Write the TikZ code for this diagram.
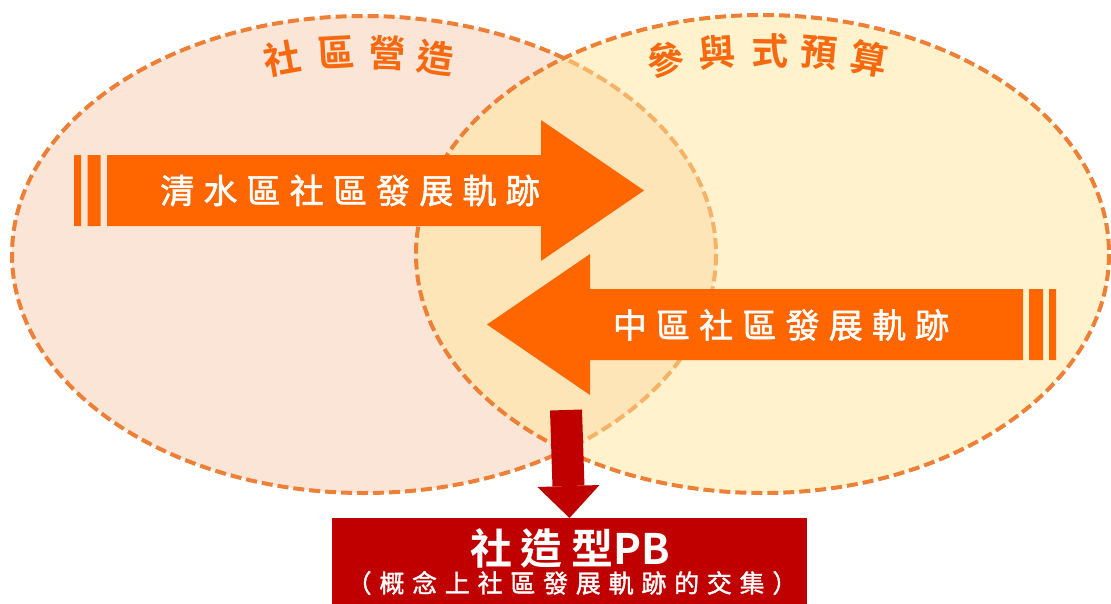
\documentclass[tikz,border=0pt]{standalone}
\usepackage{fontspec}
\usepackage{tikz}
\usetikzlibrary{arrows.meta}
\newfontfamily\cjk[BoldFont=Noto Sans CJK TC Bold]{Noto Sans CJK TC}
\newfontfamily\cjkwide[LetterSpace=27,FakeBold=1.5]{Noto Sans CJK TC}
\newfontfamily\cjknote[LetterSpace=31,FakeBold=1.5]{Noto Sans CJK TC}
\newfontfamily\cjkmid[LetterSpace=20,BoldFont=Noto Sans CJK TC Bold]{Noto Sans CJK TC}
\definecolor{setborder}{HTML}{EE7F36}
\definecolor{zaofill}{HTML}{FBE5D6}
\definecolor{pbfill}{HTML}{FFE599}
\definecolor{trackorange}{HTML}{FF6600}
\definecolor{titleorange}{HTML}{F8690F}
\definecolor{pbred}{HTML}{C00000}

\begin{document}
\begin{tikzpicture}[x=1pt,y=-1pt,
		setline/.style={draw=setborder,line width=4pt,dash pattern=on 11pt off 5pt},
		titlechar/.style={text=titleorange,inner sep=0pt,font=\cjk\bfseries\fontsize{37}{40}\selectfont},
		tracktext/.style={text=white,inner sep=0pt,font=\cjkwide\fontsize{34}{38}\selectfont}]
		\useasboundingbox (0,0) rectangle (1111,603);
		% the two sets
		\path[setline,fill=zaofill] (364,254.5) ellipse [x radius=352,y radius=238.5];
		\path[setline,fill=pbfill,fill opacity=0.5] (762.5,254) ellipse [x radius=346.5,y radius=239];
		\foreach \c/\x/\y/\r [count=\i] in {社/282/58/10,區/336/52/3,營/387/53/-2,造/436/58/-8}
			\node[titlechar,rotate=\r] (zao\i) at (\x,\y) {\c};
		\foreach \c/\x/\y/\r [count=\i] in {參/666/60/9,與/717/52/4,式/770/51/-1,預/819/53/-5,算/869/59/-10}
			\node[titlechar,rotate=\r] (pb\i) at (\x,\y) {\c};
		% tracks
		\fill[trackorange] (74,155) rectangle (81,226) (87.5,155) rectangle (100.7,226);
		\fill[trackorange] (107,155) -- (541,155) -- (541,120) -- (644,190.5) -- (541,261) -- (541,226) -- (107,226) -- cycle;
		\node[tracktext] (qingshui) at (350,190.5) {清水區社區發展軌跡};
		\fill[trackorange] (1029,289) rectangle (1043,360) (1049,289) rectangle (1056,360);
		\fill[trackorange] (1023,289) -- (590,289) -- (590,254) -- (487,324.5) -- (590,395) -- (590,360) -- (1023,360) -- cycle;
		\node[tracktext] (zhong) at (781,325) {中區社區發展軌跡};
		% result
		\node[fill=pbred,minimum width=475,minimum height=100,anchor=north] (pb) at (569.5,518) {};
		\node[text=white,inner sep=0pt,font=\fontsize{42}{46}\selectfont] (pbtitle) at (570,548) {\cjkmid\bfseries 社造型\cjk\bfseries PB};
		\node[text=white,inner sep=0pt,font=\cjknote\fontsize{25}{28}\selectfont] (pbnote) at (572,583) {（概念上社區發展軌跡的交集）};
		\coordinate (meet) at (566,410);
		\draw[pbred,line width=32pt,-{Triangle[length=32pt,width=62pt,line width=0pt]}] (meet) -- (pb.north);
	\end{tikzpicture}
\end{document}
